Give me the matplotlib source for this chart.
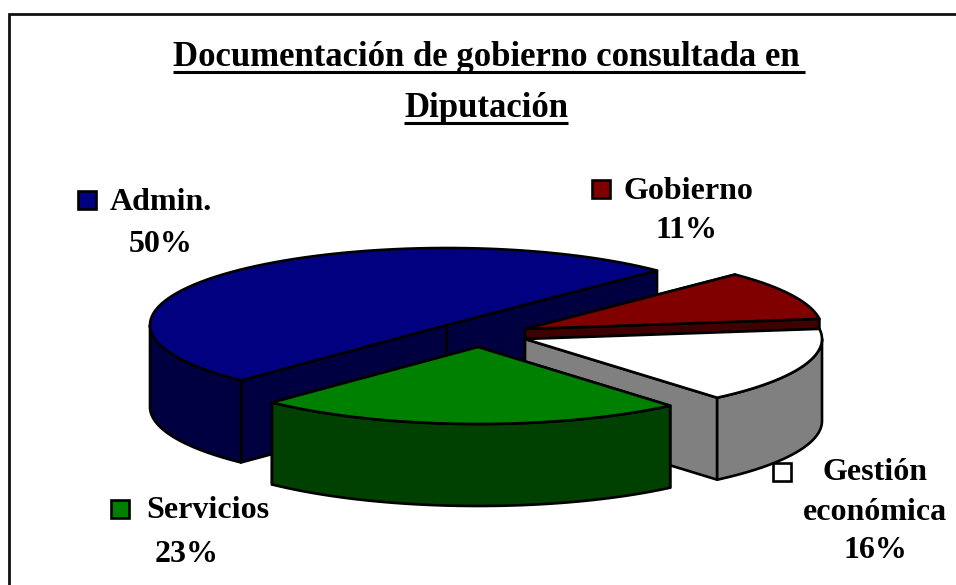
#!/usr/bin/env python3

import numpy as np
import matplotlib
matplotlib.use('Agg')
import matplotlib.pyplot as plt
from matplotlib.patches import Polygon, Rectangle

# shares, the printed labels are rounded differently
categories = ['Admin.', 'Gobierno', 'Gestión\neconómica', 'Servicios']
shares = [50.3, 10.4, 15.9, 23.4]
percent_labels = ['50%', '11%', '16%', '23%']
title_lines = ['Documentación de gobierno consultada en', 'Diputación']

top_colors = ['#000080', '#800000', '#ffffff', '#008000']
side_colors = ['#000040', '#400000', '#808080', '#004000']

apex = [(447, 325), (525, 329), (525, 339), (478, 347)]
rx, ry, depth = 297, 77, 82
start_angle = 45

W, H = 956, 585
fig = plt.figure(figsize=(W / 100, H / 100), dpi=100)
ax = fig.add_axes([0, 0, 1, 1])
ax.set_xlim(0, W)
ax.set_ylim(H, 0)
ax.axis('off')

plt.rcParams['font.family'] = ['Liberation Serif', 'DejaVu Serif']


def rim(cx, cy, a0, a1, n=80):
    t = np.radians(np.linspace(a0, a1, n))
    return np.column_stack([cx + rx * np.cos(t), cy - ry * np.sin(t)])


def poly(points, color):
    ax.add_patch(Polygon(points, closed=True, facecolor=color, edgecolor='black',
                         linewidth=1.9, joinstyle='round'))


def draw_slice(cx, cy, a0, a1, top, side):
    # a0 > a1, going clockwise on screen
    for a in (a0, a1):
        edge = rim(cx, cy, a, a, 1)[0]
        poly([(cx, cy), edge, edge + (0, depth), (cx, cy + depth)], side)
    # only the front half of the rim shows a wall
    for shift in (0, 360):
        lo, hi = max(a1, -180 + shift), min(a0, shift)
        if lo < hi:
            arc = rim(cx, cy, lo, hi)
            poly(np.vstack([arc, arc[::-1] + (0, depth)]), side)
    poly(np.vstack([[(cx, cy)], rim(cx, cy, a0, a1)]), top)


# first slice runs over the back of the pie, the others clockwise from the same edge
angles = [start_angle + shares[0] * 3.6, start_angle]
for s in shares[1:]:
    angles.append(angles[-1] - s * 3.6)
spans = [(angles[i], angles[i + 1]) for i in range(4)]

for i in range(len(shares)):
    draw_slice(apex[i][0], apex[i][1], spans[i][0], spans[i][1], top_colors[i], side_colors[i])

# frame, only top and left are in the picture
ax.plot([W, 9.5, 9.5], [14, 14, H], color='#111111', linewidth=2, solid_joinstyle='miter')

# title, underline drawn by hand
title_y = [66, 117]
for line, y in zip(title_lines, title_y):
    txt = ax.text(486, y, line, ha='center', va='baseline', fontsize=25,
                  fontweight='bold', color='black')
    fig.canvas.draw()
    bb = txt.get_window_extent()
    ax.plot([bb.x0, bb.x1 + (6 if line.endswith('en') else 0)], [y + 6, y + 6],
            color='black', linewidth=2.2, solid_capstyle='butt')

# labels with their little keys
key_pos = [(87, 200), (601, 189), (782, 472), (120, 509)]
label_pos = [(110, 210), (624, 199), (875, 480), (146, 518)]
pct_pos = [(161, 252), (687, 238), (875, 558), (187, 562)]
for i in range(4):
    kx, ky = key_pos[i]
    ax.add_patch(Rectangle((kx - 9, ky - 9), 18, 18, facecolor=top_colors[i],
                           edgecolor='black', linewidth=1.9))
    ax.text(label_pos[i][0], label_pos[i][1], categories[i].split('\n')[0],
            ha='left' if i != 2 else 'center', va='baseline', fontsize=23,
            fontweight='bold', color='black')
    if i == 2:
        ax.text(875, 520, categories[i].split('\n')[1], ha='center', va='baseline',
                fontsize=23, fontweight='bold', color='black')
    ax.text(pct_pos[i][0], pct_pos[i][1], percent_labels[i], ha='center', va='baseline',
            fontsize=23, fontweight='bold', color='black')

fig.savefig('out.png', dpi=100)
